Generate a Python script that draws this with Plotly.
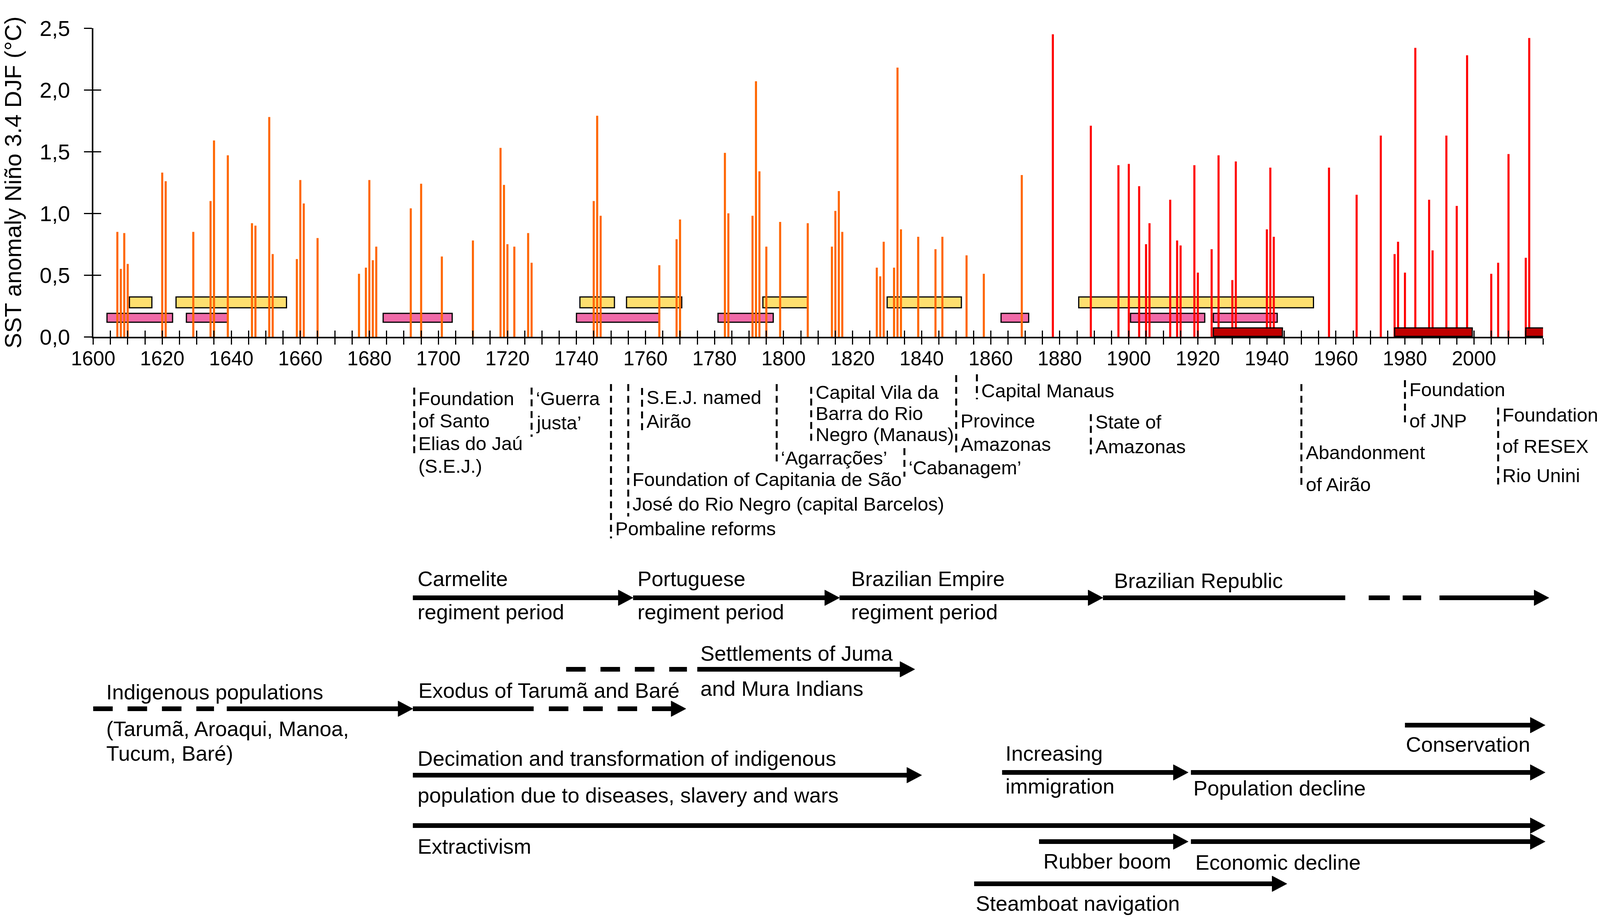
import plotly.graph_objects as go

# ---------------- data ----------------
orange_years = [1607, 1608, 1609, 1610, 1620, 1621, 1629, 1634, 1635, 1639, 1646, 1647, 1651, 1652,
                1659, 1660, 1661, 1665, 1677, 1679, 1680, 1681, 1682, 1692, 1695, 1701, 1710, 1718,
                1719, 1720, 1722, 1726, 1727, 1745, 1746, 1747, 1764, 1769, 1770, 1783, 1784, 1791,
                1792, 1793, 1795, 1799, 1807, 1814, 1815, 1816, 1817, 1827, 1828, 1829, 1832, 1833,
                1834, 1839, 1844, 1846, 1853, 1858, 1869]
orange_values = [0.85, 0.55, 0.84, 0.59, 1.33, 1.26, 0.85, 1.10, 1.59, 1.47, 0.92, 0.90, 1.78, 0.67,
                 0.63, 1.27, 1.08, 0.80, 0.51, 0.56, 1.27, 0.62, 0.73, 1.04, 1.24, 0.65, 0.78, 1.53,
                 1.23, 0.75, 0.73, 0.84, 0.60, 1.10, 1.79, 0.98, 0.58, 0.79, 0.95, 1.49, 1.00, 0.98,
                 2.07, 1.34, 0.73, 0.93, 0.92, 0.73, 1.02, 1.18, 0.85, 0.56, 0.49, 0.77, 0.56, 2.18,
                 0.87, 0.81, 0.71, 0.81, 0.66, 0.51, 1.31]
red_years = [1878, 1889, 1897, 1900, 1903, 1905, 1906, 1912, 1914, 1915, 1919, 1920, 1924, 1926,
             1930, 1931, 1940, 1941, 1942, 1958, 1966, 1973, 1977, 1978, 1980, 1983, 1987, 1988,
             1992, 1995, 1998, 2005, 2007, 2010, 2015, 2016]
red_values = [2.45, 1.71, 1.39, 1.40, 1.22, 0.75, 0.92, 1.11, 0.78, 0.74, 1.39, 0.52, 0.71, 1.47,
              0.46, 1.42, 0.87, 1.37, 0.81, 1.37, 1.15, 1.63, 0.67, 0.77, 0.52, 2.34, 1.11, 0.70,
              1.63, 1.06, 2.28, 0.51, 0.60, 1.48, 0.64, 2.42]

pink_start = [1604, 1627, 1684, 1740, 1781, 1863, 1900.5, 1924.5]
pink_end = [1623, 1639, 1704, 1764, 1797, 1871, 1922, 1943]
yellow_start = [1610.5, 1624, 1741, 1754.5, 1794, 1830, 1885.5]
yellow_end = [1617, 1656, 1751, 1770.5, 1807, 1851.5, 1953.5]
darkred_start = [1924.5, 1977, 2015]
darkred_end = [1944.5, 1999.5, 2020.3]

y_tick_values = [0, 0.5, 1.0, 1.5, 2.0, 2.5]
y_tick_labels = ["0,0", "0,5", "1,0", "1,5", "2,0", "2,5"]
x_tick_years = list(range(1600, 2021, 5))
x_tick_labels = [str(v) if (v % 20 == 0 and v <= 2000) else "" for v in x_tick_years]

event_years = [1693, 1727, 1750, 1755, 1759, 1798, 1808, 1835, 1850, 1856, 1889, 1950, 1980, 2007]
event_labels = [
    ["Foundation", "of Santo", "Elias do Jaú", "(S.E.J.)"],
    ["‘Guerra", "justa’"],
    ["Pombaline reforms"],
    ["Foundation of Capitania de São", "José do Rio Negro (capital Barcelos)"],
    ["S.E.J. named", "Airão"],
    ["‘Agarrações’"],
    ["Capital Vila da", "Barra do Rio", "Negro (Manaus)"],
    ["‘Cabanagem’"],
    ["Province", "Amazonas"],
    ["Capital Manaus"],
    ["State of", "Amazonas"],
    ["Abandonment", "of Airão"],
    ["Foundation", "of JNP"],
    ["Foundation", "of RESEX", "Rio Unini"],
]

arrow_start = [1692.6, 1756.4, 1816.2, 1892.5, 1969.5, 1990.0,
               1737.0, 1775.0,
               1600.0, 1638.7, 1692.6, 1732.0,
               1692.6, 1863.3, 1918.0, 1980.0,
               1692.6, 1874.0, 1918.0,
               1855.2]
arrow_end = [1756.4, 1816.2, 1892.5, 1962.7, 1984.7, 2021.7,
             1772.0, 1838.0,
             1635.0, 1692.6, 1727.6, 1771.7,
             1840.0, 1917.2, 2020.6, 2020.6,
             2020.6, 1917.2, 2020.6,
             1945.8]
arrow_row = ["A", "A", "A", "A", "A", "A",
             "B", "B",
             "C", "C", "C", "C",
             "D", "D2", "D2", "CONS",
             "E", "E2", "E2",
             "F"]
arrow_style = ["solid", "solid", "solid", "solid", "long", "solid",
               "dash", "solid",
               "dash", "solid", "solid", "dash",
               "solid", "solid", "solid", "solid",
               "solid", "solid", "solid",
               "solid"]
arrow_head = [True, True, True, False, False, True,
              False, True,
              False, True, False, True,
              True, True, True, True,
              True, True, True,
              True]

timeline_text = ["Carmelite", "regiment period", "Portuguese", "regiment period",
                 "Brazilian Empire", "regiment period", "Brazilian Republic",
                 "Settlements of Juma", "and Mura Indians",
                 "Indigenous populations", "(Tarumã, Aroaqui, Manoa,", "Tucum, Baré)",
                 "Exodus of Tarumã and Baré",
                 "Decimation and transformation of indigenous",
                 "population due to diseases, slavery and wars",
                 "Increasing", "immigration", "Population decline", "Conservation",
                 "Extractivism", "Rubber boom", "Economic decline", "Steamboat navigation"]
timeline_year = [1693.7, 1693.7, 1757.5, 1757.5,
                 1819.4, 1819.4, 1895.5,
                 1775.7, 1775.7,
                 1603.6, 1603.6, 1603.6,
                 1694.0,
                 1693.7,
                 1693.7,
                 1864.0, 1864.0, 1918.5, 1980.0,
                 1693.7, 1875.0, 1919.0, 1855.5]

# ---------------- layout positions (in reference pixels, 4550 x 2347) ----------------
REF_W, REF_H = 4550, 2347
X0_PX, X1_PX = 265, 4388          # where 1600 and 2020 sit
Y0_PX, Y1_PX = 862, 72            # where 0.0 and 2.5 sit
XMIN, XMAX = 1600, 2020
XD0, XD1 = X0_PX / REF_W, X1_PX / REF_W
YEARS_PER_FRAC = (XMAX - XMIN) / (XD1 - XD0)
YPP = (XMAX - XMIN) / (X1_PX - X0_PX)   # years per reference pixel

timeline_row_px = [1481, 1566, 1481, 1566,
                   1481, 1566, 1486,
                   1672, 1762,
                   1771, 1865, 1928,
                   1767,
                   1941,
                   2035,
                   1928, 2012, 2017, 1905,
                   2166, 2204, 2207, 2312]
ROW = {"A": 1530, "B": 1713, "C": 1814, "D": 1984, "D2": 1977, "CONS": 1856,
       "E": 2113, "E2": 2154, "F": 2262}
event_line_px = [
    [1020, 1077, 1135, 1193],
    [1020, 1082],
    [1353],
    [1227, 1290],
    [1017, 1078],
    [1172],
    [1004, 1058, 1112],
    [1197],
    [1077, 1137],
    [1000],
    [1080, 1143],
    [1158, 1240],
    [997, 1077],
    [1062, 1142, 1217],
]
event_dash_px = [(992, 1163), (992, 1118), (983, 1378), (983, 1322), (993, 1107), (983, 1193),
                 (990, 1130), (1147, 1220), (960, 1160), (958, 1022), (1060, 1163), (983, 1253),
                 (973, 1093), (1043, 1240)]


def py(p):
    return 1 - p / REF_H


FONT = "Arial, 'Liberation Sans', sans-serif"
EV_FS, TL_FS, XT_FS, YT_FS, TITLE_FS = 49, 54, 51, 56, 60
ORANGE = "#FF6600"
RED = "#FF0000"
PINK = "#F06AA8"
YELLOW = "#FEDF6F"
DARKRED = "#C00000"

fig = go.Figure()
fig.add_trace(go.Bar(x=orange_years, y=orange_values, width=0.6,
                     marker=dict(color=ORANGE, line=dict(width=0))))
fig.add_trace(go.Bar(x=red_years, y=red_values, width=0.6,
                     marker=dict(color=RED, line=dict(width=0))))
fig.add_trace(go.Scatter(x=[None], y=[None], xaxis="x2", yaxis="y", hoverinfo="skip"))
fig.add_trace(go.Scatter(x=[None], y=[None], xaxis="x3", yaxis="y3", hoverinfo="skip"))

# boxes on the chart
for s, e in zip(pink_start, pink_end):
    fig.add_shape(type="rect", xref="x", yref="y", x0=s, x1=e, y0=0.118, y1=0.19,
                  fillcolor=PINK, line=dict(color="black", width=3), layer="below")
for s, e in zip(yellow_start, yellow_end):
    fig.add_shape(type="rect", xref="x", yref="y", x0=s, x1=e, y0=0.235, y1=0.323,
                  fillcolor=YELLOW, line=dict(color="black", width=3), layer="below")
for s, e in zip(darkred_start, darkred_end):
    fig.add_shape(type="rect", xref="x", yref="y", x0=s, x1=e, y0=0.003, y1=0.072,
                  fillcolor=DARKRED, line=dict(color="black", width=3), layer="above")

annotations = []

# events
for yr, lines, lpx, (dt, db) in zip(event_years, event_labels, event_line_px, event_dash_px):
    fig.add_shape(type="line", xref="x2", yref="paper", x0=yr, x1=yr, y0=py(dt), y1=py(db),
                  line=dict(color="black", width=5, dash="18px,12px"))
    for txt, p in zip(lines, lpx):
        annotations.append(dict(x=yr, y=py(p), xref="x2", yref="paper", text=txt,
                                showarrow=False, xanchor="left", yanchor="middle", xshift=9,
                                font=dict(family=FONT, size=EV_FS, color="black")))

# timeline arrows
HEAD_LEN = 42 * YPP
HEAD_HALF = 20
DASHES = {"solid": "solid", "dash": "50px,38px", "long": "54px,33px"}
for x0, x1, row, style, head in zip(arrow_start, arrow_end, arrow_row, arrow_style, arrow_head):
    ypx = ROW[row]
    xe = x1 - (HEAD_LEN * (0.6 if style == "solid" else 1.0) if head else 0)
    fig.add_shape(type="line", xref="x2", yref="paper", x0=x0, x1=xe, y0=py(ypx), y1=py(ypx),
                  line=dict(color="black", width=12, dash=DASHES[style]))
    if head:
        path = (f"M{x1 - HEAD_LEN},{py(ypx - HEAD_HALF)} L{x1},{py(ypx)} "
                f"L{x1 - HEAD_LEN},{py(ypx + HEAD_HALF)} Z")
        fig.add_shape(type="path", xref="x2", yref="paper", path=path,
                      fillcolor="black", line=dict(color="black", width=1))

for txt, yr, p in zip(timeline_text, timeline_year, timeline_row_px):
    annotations.append(dict(x=yr, y=py(p), xref="x2", yref="paper", text=txt, showarrow=False,
                            xanchor="left", yanchor="middle",
                            font=dict(family=FONT, size=TL_FS, color="black")))

fig.update_layout(
    height=2330, autosize=True,
    margin=dict(l=0, r=0, t=0, b=0, autoexpand=False),
    paper_bgcolor="white", plot_bgcolor="rgba(0,0,0,0)",
    showlegend=False, barmode="overlay",
    annotations=annotations,
    xaxis=dict(domain=[XD0, XD1], range=[XMIN, XMAX], autorange=False, automargin=False,
               anchor="y", showline=True, linewidth=4, linecolor="black",
               ticks="outside", ticklen=16, tickwidth=3, tickcolor="black",
               tickmode="array", tickvals=x_tick_years, ticktext=x_tick_labels,
               tickfont=dict(family=FONT, size=XT_FS, color="black"), ticklabelstandoff=-8,
               showgrid=False, zeroline=False),
    xaxis2=dict(domain=[0, 1], range=[XMIN - XD0 * YEARS_PER_FRAC, XMAX + (1 - XD1) * YEARS_PER_FRAC],
                autorange=False, automargin=False, anchor="y", visible=False),
    xaxis3=dict(overlaying="x", range=[XMIN, XMAX], autorange=False, automargin=False, anchor="y",
                ticks="inside", ticklen=16, tickwidth=3, tickcolor="black",
                tickmode="array", tickvals=x_tick_years, showticklabels=False,
                showline=False, showgrid=False, zeroline=False),
    yaxis=dict(domain=[py(Y0_PX), py(Y1_PX)], range=[0, 2.5], autorange=False, automargin=False,
               anchor="x", showline=True, linewidth=4, linecolor="black",
               ticks="outside", ticklen=20, tickwidth=3, tickcolor="black",
               tickmode="array", tickvals=y_tick_values, ticktext=y_tick_labels,
               tickfont=dict(family=FONT, size=YT_FS, color="black"), ticklabelstandoff=24,
               title=dict(text="SST anomaly Niño 3.4 DJF (°C)",
                          font=dict(family=FONT, size=TITLE_FS, color="black"), standoff=30),
               showgrid=False, zeroline=False),
    yaxis3=dict(overlaying="y", range=[0, 2.5], autorange=False, automargin=False, anchor="x",
                ticks="inside", ticklen=20, tickwidth=3, tickcolor="black",
                tickmode="array", tickvals=y_tick_values, showticklabels=False,
                showline=False, showgrid=False, zeroline=False),
)

post = """
var gd = document.getElementById('{plot_id}');
document.documentElement.style.margin = '0';
document.documentElement.style.overflow = 'hidden';
document.body.style.margin = '0';
document.body.style.overflow = 'hidden';
var w = window.innerWidth, h = window.innerHeight;
if (w > 500 && h > 500) {
  gd.style.width = w + 'px';
  gd.style.height = h + 'px';
  Plotly.relayout(gd, {width: w, height: h});
}
"""
fig.write_html("out.html", post_script=post, config={"displayModeBar": False})
